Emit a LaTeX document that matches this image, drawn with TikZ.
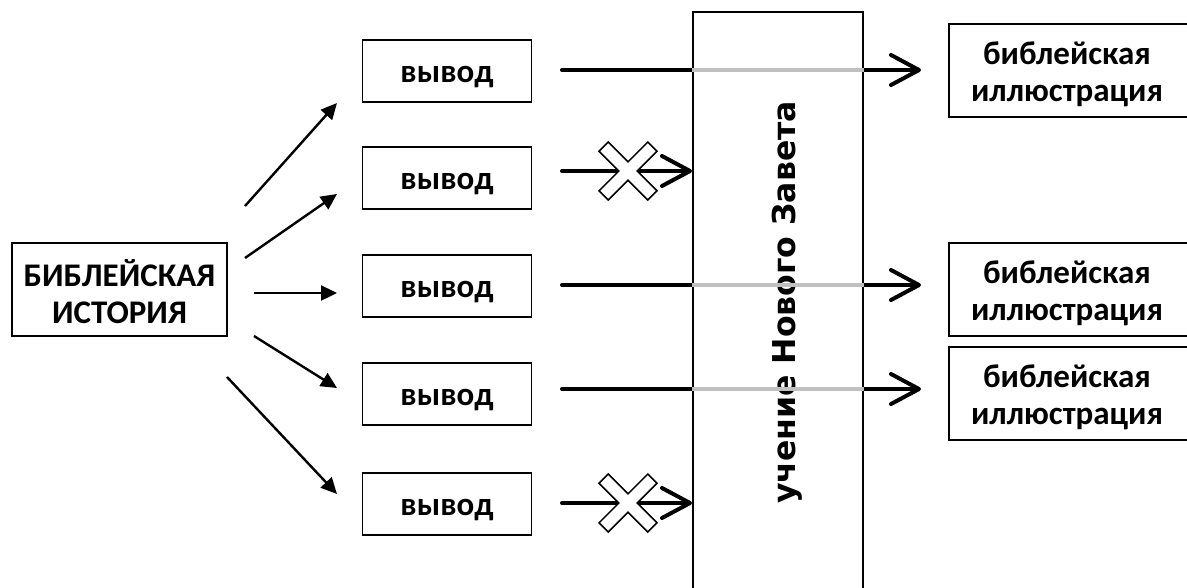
\documentclass[tikz,border=0pt]{standalone}
\usepackage{fontspec}
\setmainfont{Carlito}
\newfontfamily\vfont{DejaVu Sans}
\usetikzlibrary{arrows.meta}
\definecolor{lgray}{RGB}{192,192,192}
\begin{document}
\begin{tikzpicture}[x=1pt,y=-1pt,
  txt/.style={font=\fontsize{33}{37}\selectfont\bfseries, align=center, inner sep=0pt},
  boxstyle/.style={draw, line width=1.6pt, inner sep=0pt},
  vbox/.style={boxstyle, minimum width=169pt, minimum height=62pt},
  rbox/.style={draw, line width=1.6pt, inner sep=0pt, anchor=west, minimum width=260pt, minimum height=93pt},
  fan/.style={line width=2.4pt, -{Triangle[length=16pt,width=15pt]}},
  thick arrow/.style={line width=4pt, line cap=round, -{Straight Barb[length=28pt,width=30pt,round]}},
  grayline/.style={line width=4pt, draw=lgray},
  crossmark/.style={fill=white, draw=black, line width=1.5pt, line join=miter}
]
\useasboundingbox (0,0) rectangle (1187,587);
\fill[white] (0,0) rectangle (1187,587);

% big vertical rectangle
\node[draw, line width=1.6pt, minimum width=170pt, minimum height=600pt, anchor=north west, inner sep=0pt] (nt) at (692,11) {};
\node[font=\vfont\fontsize{31.5}{36}\selectfont\bfseries, rotate=90, anchor=base, inner sep=0pt] (ntt) at (795,302.5) {учение Нового Завета};

% left box
\node[boxstyle, minimum width=215pt, minimum height=93pt] (hist) at (119.5,289.5) {};
\node[txt] (histt) at (119.5,291.5) {БИБЛЕЙСКАЯ\\ИСТОРИЯ};

% conclusion boxes
\foreach \i/\y in {1/71,2/178,3/286,4/394,5/504}{
  \node[vbox] (v\i) at (447,\y) {};
  \node[txt, anchor=base] (v\i t) at (447,\y+11) {вывод};
}

% right boxes
\foreach \i/\y in {1/70.5,2/289.5,3/393.5}{
  \node[rbox] (r\i) at (948,\y) {};
  \node[txt] (r\i t) at (1067,\y+4) {библейская\\иллюстрация};
}

% fan arrows
\coordinate (f1s) at (245,206); \coordinate (f1e) at (337,103);
\coordinate (f2s) at (245,258); \coordinate (f2e) at (337,194);
\coordinate (f3s) at (254,293); \coordinate (f3e) at (337,293);
\coordinate (f4s) at (254,336); \coordinate (f4e) at (337,388);
\coordinate (f5s) at (227,377); \coordinate (f5e) at (337,494);
\draw[fan] (f1s) -- (f1e);
\draw[fan] (f2s) -- (f2e);
\draw[fan] (f3s) -- (f3e);
\draw[fan] (f4s) -- (f4e);
\draw[fan] (f5s) -- (f5e);

% arrows through the teaching
\foreach \n/\y in {1/70,3/285,4/389}{
  \coordinate (a\n s) at (562,\y);
  \coordinate (a\n e) at (921,\y);
  \draw[thick arrow] (a\n s) -- (a\n e);
  \draw[grayline] (nt.west |- a\n s) -- (nt.east |- a\n s);
}
% blocked arrows
\foreach \n/\y in {2/171,5/503}{
  \coordinate (b\n s) at (562,\y);
  \draw[thick arrow] (b\n s) -- (nt.west |- b\n s);
  \draw[crossmark, shift={(628,\y)}, rotate=45]
    (6.5,6.5) -- (34.5,6.5) -- (34.5,-6.5) -- (6.5,-6.5) -- (6.5,-34.5) -- (-6.5,-34.5) -- (-6.5,-6.5) -- (-34.5,-6.5) -- (-34.5,6.5) -- (-6.5,6.5) -- (-6.5,34.5) -- (6.5,34.5) -- cycle;
}
\end{tikzpicture}
\end{document}
